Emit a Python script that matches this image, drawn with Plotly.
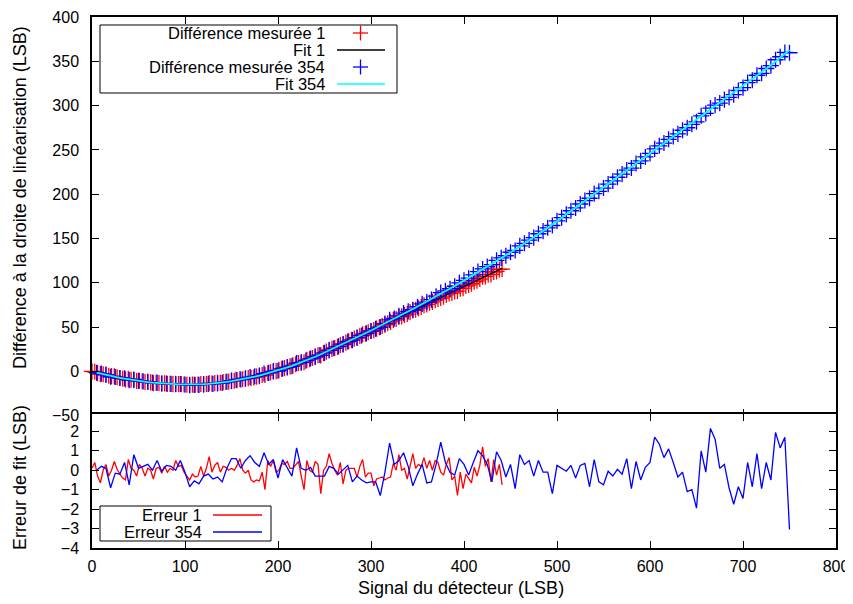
import plotly.graph_objects as go

# ---------------- data ----------------
# Series 1 (red): detector signal positions
red_x = [
    0, 3, 6, 9, 12, 15, 18, 21, 24, 27,
    30, 33, 36, 39, 42, 45, 48, 51, 54, 57,
    60, 63, 66, 69, 72, 75, 78, 81, 84, 87,
    90, 93, 96, 99, 102, 105, 108, 111, 114, 117,
    120, 123, 126, 129, 132, 135, 138, 141, 144, 147,
    150, 153, 156, 159, 162, 165, 168, 171, 174, 177,
    180, 183, 186, 189, 192, 195, 198, 201, 204, 207,
    210, 213, 216, 219, 222, 225, 228, 231, 234, 237,
    240, 243, 246, 249, 252, 255, 258, 261, 264, 267,
    270, 273, 276, 279, 282, 285, 288, 291, 294, 297,
    300, 303, 306, 309, 312, 315, 318, 321, 324, 327,
    330, 333, 336, 339, 342, 345, 348, 351, 354, 357,
    360, 363, 366, 369, 372, 375, 378, 381, 384, 387,
    390, 393, 396, 399, 402, 405, 408, 411, 414, 417,
    420, 423, 426, 429, 432, 435, 438, 441,
]
# Fit 1 values at red_x
red_fit = [
    0.0, -0.8, -1.6, -2.4, -3.2, -3.9, -4.6, -5.3, -6.0, -6.6,
    -7.2, -7.8, -8.4, -8.9, -9.4, -9.9, -10.4, -10.8, -11.2, -11.6,
    -12.0, -12.3, -12.7, -13.0, -13.2, -13.5, -13.7, -13.9, -14.1, -14.3,
    -14.4, -14.5, -14.6, -14.7, -14.7, -14.7, -14.7, -14.6, -14.6, -14.4,
    -14.3, -14.1, -13.9, -13.6, -13.4, -13.1, -12.7, -12.3, -11.9, -11.5,
    -11.0, -10.5, -10.0, -9.4, -8.8, -8.2, -7.5, -6.9, -6.2, -5.4,
    -4.7, -3.9, -3.0, -2.2, -1.3, -0.4, 0.5, 1.5, 2.5, 3.5,
    4.5, 5.6, 6.7, 7.8, 9.0, 10.2, 11.4, 12.6, 13.9, 15.2,
    16.6, 17.9, 19.3, 20.7, 22.2, 23.6, 25.1, 26.5, 28.0, 29.5,
    31.0, 32.5, 34.0, 35.5, 36.9, 38.4, 39.9, 41.4, 42.9, 44.3,
    45.8, 47.4, 48.8, 50.3, 51.8, 53.3, 54.8, 56.2, 57.7, 59.2,
    60.7, 62.2, 63.6, 65.2, 66.7, 68.1, 69.6, 71.1, 72.6, 74.0,
    75.6, 77.1, 78.5, 80.0, 81.5, 83.0, 84.5, 86.0, 87.5, 89.0,
    90.5, 92.0, 93.5, 95.0, 96.6, 98.0, 99.6, 101.1, 102.6, 104.1,
    105.7, 107.1, 108.7, 110.2, 111.7, 113.2, 114.8, 116.3,
]
# Erreur 1 (measured - fit) at red_x
red_err = [
    0.1, 0.4, -0.3, -0.65, 0.0, 0.3, -0.3, 0.0, 0.45, 0.05,
    -0.2, -0.4, -0.5, 0.55, 0.1, 0.0, -0.3, 0.3, 0.1, -0.3,
    0.1, 0.0, -0.45, 0.1, 0.15, -0.15, 0.2, -0.1, 0.1, 0.0,
    0.5, 0.2, 0.25, -0.1, -0.3, -0.5, -0.2, -0.35, -0.3, 0.2,
    -0.3, 0.1, 0.7, -0.1, 0.25, 0.4, -0.1, 0.2, 0.15, 0.0,
    0.1, 0.0, 0.25, 0.6, 0.0, -0.15, 0.0, -0.5, -0.6, -0.5,
    -0.55, -0.1, -1.0, 0.5, 0.2, 0.5, -0.1, 0.0, 0.35, 0.3,
    0.45, 0.1, 0.1, 0.3, 0.45, -0.3, -1.0, 0.5, 0.0, -0.1,
    0.45, 0.3, -1.2, 0.0, 0.2, 0.85, 0.35, 0.0, -0.25, 0.4,
    -0.7, 0.0, 0.1, 0.1, 0.1, -0.35, 0.2, 0.55, -0.35, -0.15,
    -0.15, -0.8, -0.45, -0.4, -0.35, -0.5, -0.4, -0.35, 0.35, 0.0,
    0.8, 0.0, 0.1, -0.45, 0.3, 0.85, 0.1, 0.3, 0.2, 0.65,
    0.1, 0.5, 0.0, 0.5, 0.4, -0.1, -0.25, 0.3, 0.65, -0.5,
    -0.3, -1.3, -0.1, -0.95, -0.2, -0.4, -0.65, 0.15, -0.3, 0.25,
    1.2, 0.2, 0.6, -0.6, 0.55, -0.25, 0.3, -0.75,
]

# Series 354 (blue)
blue_x = [
    5, 10, 15, 20, 25, 30, 35, 40, 45, 50,
    55, 60, 65, 70, 75, 80, 85, 90, 95, 100,
    105, 110, 115, 120, 125, 130, 135, 140, 145, 150,
    155, 160, 165, 170, 175, 180, 185, 190, 195, 200,
    205, 210, 215, 220, 225, 230, 235, 240, 245, 250,
    255, 260, 265, 270, 275, 280, 285, 290, 295, 300,
    305, 310, 315, 320, 325, 330, 335, 340, 345, 350,
    355, 360, 365, 370, 375, 380, 385, 390, 395, 400,
    405, 410, 415, 420, 425, 430, 435, 440, 445, 450,
    455, 460, 465, 470, 475, 480, 485, 490, 495, 500,
    505, 510, 515, 520, 525, 530, 535, 540, 545, 550,
    555, 560, 565, 570, 575, 580, 585, 590, 595, 600,
    605, 610, 615, 620, 625, 630, 635, 640, 645, 650,
    655, 660, 665, 670, 675, 680, 685, 690, 695, 700,
    705, 710, 715, 720, 725, 730, 735, 740, 745, 750,
]
blue_fit = [
    -1.4, -2.7, -3.9, -5.1, -6.2, -7.2, -8.2, -9.1, -9.9, -10.7,
    -11.4, -12.0, -12.6, -13.1, -13.5, -13.9, -14.2, -14.4, -14.6, -14.7,
    -14.7, -14.6, -14.5, -14.3, -14.0, -13.6, -13.1, -12.5, -11.8, -11.0,
    -10.1, -9.2, -8.2, -7.1, -5.9, -4.7, -3.3, -1.9, -0.4, 1.2,
    2.8, 4.5, 6.3, 8.2, 10.2, 12.2, 14.4, 16.6, 18.8, 21.2,
    23.6, 26.0, 28.5, 31.0, 33.5, 36.0, 38.5, 41.0, 43.6, 46.2,
    48.8, 51.4, 54.1, 56.8, 59.5, 62.2, 64.9, 67.6, 70.4, 73.2,
    76.0, 78.9, 81.7, 84.6, 87.5, 90.5, 93.4, 96.4, 99.4, 102.5,
    105.5, 108.6, 111.7, 114.9, 118.0, 121.2, 124.4, 127.7, 130.9, 134.2,
    137.5, 140.9, 144.3, 147.8, 151.3, 154.9, 158.5, 162.2, 165.9, 169.7,
    173.5, 177.3, 181.1, 184.9, 188.7, 192.5, 196.3, 200.1, 203.9, 207.7,
    211.5, 215.3, 219.1, 222.9, 226.7, 230.5, 234.3, 238.1, 241.9, 245.7,
    249.5, 253.3, 257.1, 260.9, 264.7, 268.5, 272.3, 276.1, 279.9, 283.7,
    287.5, 291.3, 295.1, 298.9, 302.7, 306.5, 310.3, 314.1, 317.9, 321.7,
    325.5, 329.4, 333.4, 337.4, 341.5, 345.6, 349.8, 354.0, 358.3, 362.7,
]
blue_err = [
    0.0, 0.2, 0.1, -0.9, -0.15, -0.2, 0.4, -0.75, 0.8, 0.1,
    0.2, 0.3, 0.0, 0.5, -0.05, 0.25, 0.2, 0.0, 0.5, -0.1,
    -0.85, -0.55, -0.7, -0.3, -0.2, -0.45, -0.35, -0.6, 0.1, 0.6,
    0.6, 0.1, 0.5, 0.75, 0.4, 0.2, 0.9, 0.3, 0.55, -0.4,
    0.55, 0.1, -0.3, 1.15, 0.1, 0.0, 0.15, -0.3, -0.3, -0.3,
    0.2, 0.1, -0.2, 0.0, 0.25, -0.6, -0.3, -0.5, -0.65, -0.6,
    -0.6, -1.3, -0.1, 1.4, 0.3, 0.5, 0.9, 0.2, -0.8, -0.2,
    0.3, -0.65, -0.6, 0.3, 1.45, 0.4, -0.1, -0.25, 0.6, 0.3,
    -0.25, 0.4, 1.0, 0.75, 0.3, -0.6, 0.95, 0.5, -0.35, 0.3,
    -0.95, 0.8, 0.3, 0.5, -0.3, 0.5, -0.1, -0.1, -1.2, 0.25,
    0.1, -0.05, 0.25, -0.4, 0.25, 0.35, -0.85, 0.55, -0.6, -0.75,
    -0.05, -0.3, 0.05, -0.2, 0.6, -0.95, 0.45, -0.5, 0.15, 0.4,
    1.7, 1.35, 0.65, 1.1, 0.4, -0.35, -0.1, -1.1, -1.0, -1.95,
    1.0, -0.1, 2.15, 1.6, 0.1, 0.3, -0.9, -1.75, -0.85, -1.45,
    0.4, -0.85, 0.85, -0.95, 0.4, -0.5, 1.95, 1.15, 1.7, -3.05,
]

x_ticks = [0, 100, 200, 300, 400, 500, 600, 700, 800]
top_y_ticks = [-50, 0, 50, 100, 150, 200, 250, 300, 350, 400]
bot_y_ticks = [-4, -3, -2, -1, 0, 1, 2]

legend_top = ["Différence mesurée 1", "Fit 1", "Différence mesurée 354", "Fit 354"]
legend_bot = ["Erreur 1", "Erreur 354"]

# measured difference = fit + residual
red_meas = [f + e for f, e in zip(red_fit, red_err)]
blue_meas = [f + e for f, e in zip(blue_fit, blue_err)]

# ---------------- figure ----------------
# The page body has an 8 px margin, so the figure is drawn 8 px smaller
# and its margins are reduced by 8 px on the left/top.
OFF = 8
W, H = 853 - OFF, 604 - OFF
ML, MR, MT, MB = 92 - OFF, 17, 17 - OFF, 56
PL, PT = 92, 17          # plot-area left / top in screen pixels
PW, PH = W - ML - MR, H - MT - MB   # 744 x 531
PB = PT + PH             # 548
SPLIT = (PB - 415) / PH  # bottom panel fraction
HALF = 0.75 / PH         # let the two divider lines coincide

FONT = "Liberation Sans, Arial, Helvetica, sans-serif"
FS = 16      # tick labels
FL = 16.5    # legend text
FT = 18      # axis titles

RED, BLUE, CYAN = "#ff0000", "#0000ff", "#00ffff"


def fx(px):
    return (px - PL) / PW


def fy(py):
    return (PB - py) / PH


fig = go.Figure()
fig.add_trace(go.Scatter(
    x=red_x, y=red_meas, mode="markers", xaxis="x", yaxis="y",
    marker=dict(symbol="cross-thin", size=11.5, color=RED, line=dict(color=RED, width=1.3)),
    cliponaxis=False, showlegend=False))
fig.add_trace(go.Scatter(
    x=red_x, y=red_fit, mode="lines", xaxis="x", yaxis="y",
    line=dict(color="black", width=1.3), showlegend=False))
fig.add_trace(go.Scatter(
    x=blue_x, y=blue_meas, mode="markers", xaxis="x", yaxis="y",
    marker=dict(symbol="cross-thin", size=11.5, color=BLUE, line=dict(color=BLUE, width=1.3)),
    cliponaxis=False, showlegend=False))
fig.add_trace(go.Scatter(
    x=blue_x, y=blue_fit, mode="lines", xaxis="x", yaxis="y",
    line=dict(color=CYAN, width=1.8), showlegend=False))
fig.add_trace(go.Scatter(
    x=red_x, y=red_err, mode="lines", xaxis="x2", yaxis="y2",
    line=dict(color=RED, width=1.3), showlegend=False))
fig.add_trace(go.Scatter(
    x=blue_x, y=blue_err, mode="lines", xaxis="x2", yaxis="y2",
    line=dict(color=BLUE, width=1.3), showlegend=False))

axis_common = dict(
    showline=True, linecolor="black", linewidth=1.5, mirror="ticks",
    ticks="inside", ticklen=7, tickwidth=1, tickcolor="black",
    showgrid=False, zeroline=False, automargin=False,
    tickfont=dict(family=FONT, size=FS, color="black"),
)

fig.update_layout(
    width=W, height=H,
    margin=dict(l=ML, r=MR, t=MT, b=MB, autoexpand=False),
    paper_bgcolor="white", plot_bgcolor="white",
    showlegend=False,
    font=dict(family=FONT, size=FS, color="black"),
    xaxis=dict(domain=[0, 1], anchor="y", range=[0, 800], tickvals=x_ticks,
               showticklabels=False, **axis_common),
    yaxis=dict(domain=[SPLIT - HALF, 1], anchor="x", range=[-50, 400], tickvals=top_y_ticks,
               ticklabelstandoff=8, **axis_common),
    xaxis2=dict(domain=[0, 1], anchor="y2", range=[0, 800], tickvals=x_ticks,
                ticklabelstandoff=3, **axis_common),
    yaxis2=dict(domain=[0, SPLIT + HALF], anchor="x2", range=[-4, 2.88], tickvals=bot_y_ticks,
                ticklabelstandoff=8, **axis_common),
)

shapes = []
annotations = []

# axis titles
annotations.append(dict(text="Signal du détecteur (LSB)", xref="paper", yref="paper",
                        x=fx(461), y=fy(588), xanchor="center", yanchor="middle",
                        showarrow=False, font=dict(family=FONT, size=FT)))
annotations.append(dict(text="Différence à la droite de linéarisation (LSB)", xref="paper", yref="paper",
                        x=fx(20), y=fy(198), xanchor="center", yanchor="middle", textangle=-90,
                        showarrow=False, font=dict(family=FONT, size=FT)))
annotations.append(dict(text="Erreur de fit (LSB)", xref="paper", yref="paper",
                        x=fx(20), y=fy(478), xanchor="center", yanchor="middle", textangle=-90,
                        showarrow=False, font=dict(family=FONT, size=FT)))

# top legend (gnuplot style: text right-aligned, sample on the right)
shapes.append(dict(type="rect", xref="paper", yref="paper", x0=fx(100), x1=fx(397),
                   y0=fy(93), y1=fy(25), line=dict(color="black", width=1),
                   fillcolor="white", layer="above"))
rows_top = [33, 50, 67, 84]
samples_top = [("plus", RED), ("line", "black"), ("plus", BLUE), ("line", CYAN)]
for label, py, (kind, col) in zip(legend_top, rows_top, samples_top):
    annotations.append(dict(text=label, xref="paper", yref="paper", x=fx(326), y=fy(py),
                            xanchor="right", yanchor="middle", showarrow=False,
                            height=16, borderpad=0,
                            font=dict(family=FONT, size=FL)))
    if kind == "plus":
        shapes.append(dict(type="line", xref="paper", yref="paper", x0=fx(353), x1=fx(368),
                           y0=fy(py), y1=fy(py), line=dict(color=col, width=1.3), layer="above"))
        shapes.append(dict(type="line", xref="paper", yref="paper", x0=fx(360.5), x1=fx(360.5),
                           y0=fy(py - 7.5), y1=fy(py + 7.5), line=dict(color=col, width=1.3), layer="above"))
    else:
        shapes.append(dict(type="line", xref="paper", yref="paper", x0=fx(337), x1=fx(385),
                           y0=fy(py), y1=fy(py), line=dict(color=col, width=1.5), layer="above"))

# bottom legend
shapes.append(dict(type="rect", xref="paper", yref="paper", x0=fx(100), x1=fx(271),
                   y0=fy(541), y1=fy(506), line=dict(color="black", width=1),
                   fillcolor="white", layer="above"))
for label, py, col in zip(legend_bot, [515, 532], [RED, BLUE]):
    annotations.append(dict(text=label, xref="paper", yref="paper", x=fx(203), y=fy(py),
                            xanchor="right", yanchor="middle", showarrow=False,
                            height=16, borderpad=0,
                            font=dict(family=FONT, size=FL)))
    shapes.append(dict(type="line", xref="paper", yref="paper", x0=fx(213), x1=fx(262),
                       y0=fy(py), y1=fy(py), line=dict(color=col, width=1.3), layer="above"))

fig.update_layout(shapes=shapes, annotations=annotations)

fig.write_html("out.html")
